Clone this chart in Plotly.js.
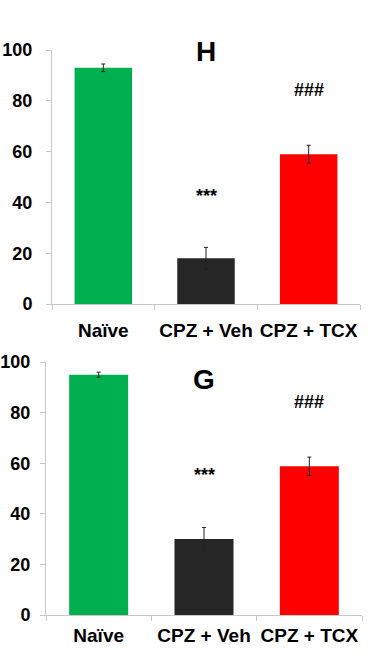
<!DOCTYPE html>
<html><head><meta charset="utf-8">
<script src="https://cdn.plot.ly/plotly-3.0.1.min.js"></script>
<style>html,body{margin:0;padding:0;background:#fff}#chart{width:384px;height:656px}</style>
</head><body><div id="chart"></div>
<script>
const categories = ["Naïve", "CPZ + Veh", "CPZ + TCX"];
const colors = ["#00b050", "#262626", "#ff0000"];
const valuesH = [93, 18, 59];
const errorsH = [1.5, 4.3, 3.5];
const valuesG = [95, 30, 58.8];
const errorsG = [1, 4.6, 3.6];
const yTicks = [0, 20, 40, 60, 80, 100];
const marksH = [{label: "***", x: "CPZ + Veh", y: 42.7}, {label: "###", x: "CPZ + TCX", y: 84.2}];
const marksG = [{label: "***", x: "CPZ + Veh", y: 55.3}, {label: "###", x: "CPZ + TCX", y: 84}];
const panelH = {label: "H", x: "CPZ + Veh", y: 99.5};
const panelG = {label: "G", x: "CPZ + Veh", y: 93};

const font = "Liberation Sans, Arial, sans-serif";
function barTrace(vals, errs, xa, ya) {
  return {type: "bar", x: categories, y: vals, xaxis: xa, yaxis: ya,
    marker: {color: colors, line: {width: 0}},
    error_y: {type: "data", array: errs, visible: true, color: "#222", thickness: 1, width: 2},
    showlegend: false, hoverinfo: "none"};
}
function xAx(domain, anchor, standoff) {
  return {domain: domain, anchor: anchor, type: "category", showgrid: false, zeroline: false,
    showline: true, linecolor: "#c8c8c8", linewidth: 1, ticks: "outside", tickson: "boundaries",
    ticklen: 5, tickcolor: "#c8c8c8", ticklabelstandoff: standoff, tickangle: 0,
    tickfont: {family: font, size: 19, color: "#000", weight: "bold"}, fixedrange: true};
}
function yAx(domain, anchor, standoff) {
  return {domain: domain, anchor: anchor, range: [0, 100], tickvals: yTicks, showgrid: false,
    zeroline: false, showline: true, linecolor: "#c8c8c8", linewidth: 1, ticks: "outside",
    ticklen: 5, tickcolor: "#c8c8c8", ticklabelstandoff: standoff,
    tickfont: {family: font, size: 18, color: "#000", weight: "bold"}, fixedrange: true};
}
function ann(m, xr, yr, size) {
  return {text: m.label, x: m.x, y: m.y, xref: xr, yref: yr, showarrow: false,
    font: {family: font, size: size, color: "#000", weight: "bold"}};
}
const annotations = []
  .concat(marksH.map(m => ann(m, "x", "y", 18)))
  .concat(marksG.map(m => ann(m, "x2", "y2", 18)))
  .concat([ann(panelH, "x", "y", 28), ann(panelG, "x2", "y2", 28)]);

const layout = {
  width: 384, height: 656, margin: {l: 0, r: 0, t: 0, b: 0},
  paper_bgcolor: "#fff", plot_bgcolor: "#fff", bargap: 0.44,
  xaxis: xAx([52/384, 360/384], "y", 9),
  yaxis: yAx([1 - 304/656, 1 - 50/656], "x", 10),
  xaxis2: xAx([46/384, 362/384], "y2", 3),
  yaxis2: yAx([1 - 615/656, 1 - 362/656], "x2", 6),
  annotations: annotations
};
Plotly.newPlot("chart", [barTrace(valuesH, errorsH, "x", "y"), barTrace(valuesG, errorsG, "x2", "y2")], layout, {displayModeBar: false, staticPlot: true});
</script></body></html>
